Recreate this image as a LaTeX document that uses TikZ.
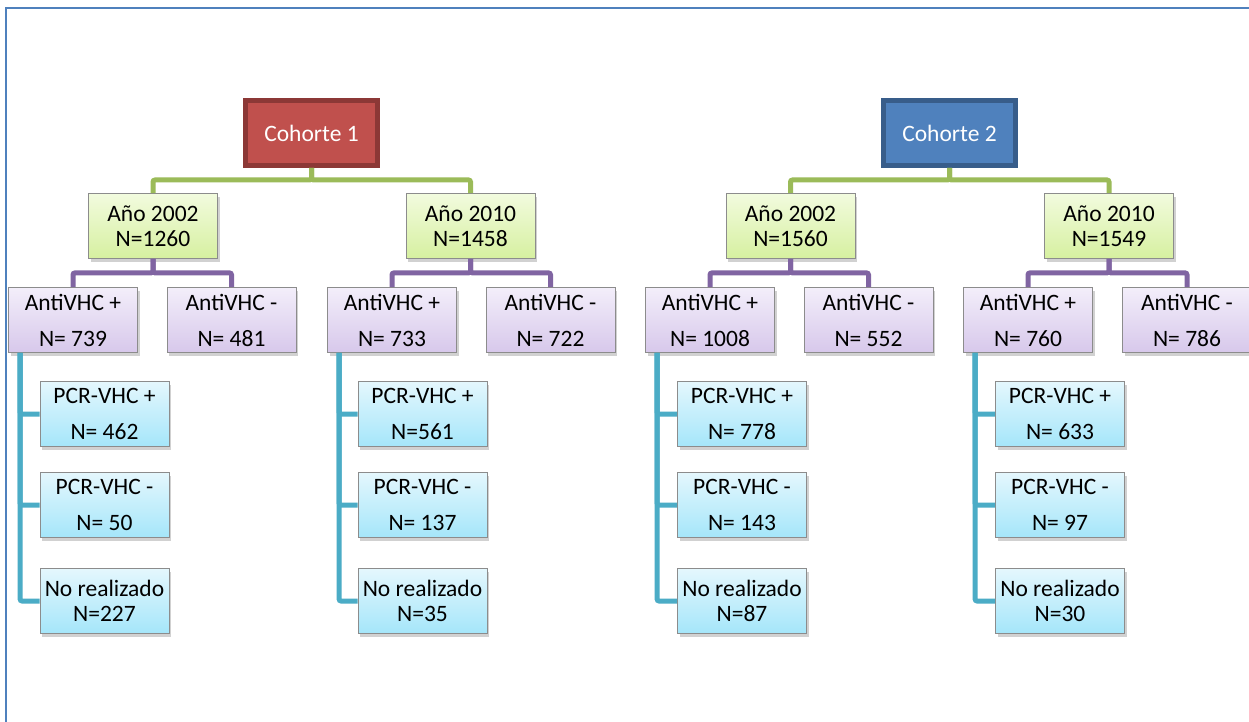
\documentclass[tikz,border=0pt]{standalone}
\usepackage{fontspec}
\setmainfont{Carlito}
\usetikzlibrary{shadows}
\definecolor{framec}{RGB}{79,129,189}
\definecolor{gline}{RGB}{155,187,89}
\definecolor{pline}{RGB}{128,100,162}
\definecolor{bline}{RGB}{75,172,198}
\definecolor{redf}{RGB}{192,80,77}
\definecolor{redd}{RGB}{140,56,54}
\definecolor{bluef}{RGB}{79,129,189}
\definecolor{blued}{RGB}{56,93,138}
\definecolor{gtop}{RGB}{242,251,222}
\definecolor{gbot}{RGB}{214,240,160}
\definecolor{ptop}{RGB}{243,238,250}
\definecolor{pbot}{RGB}{215,200,235}
\definecolor{btop}{RGB}{228,247,253}
\definecolor{bbot}{RGB}{165,230,250}
\begin{document}
\begin{tikzpicture}[x=1pt,y=-1pt,
  txt/.style={font=\fontsize{23.5}{25}\selectfont},
  box/.style={txt, draw=black!45, line width=0.8pt, minimum width=129pt, minimum height=65pt,
    inner sep=0pt, align=center,
    drop shadow={shadow xshift=2pt, shadow yshift=-3pt, fill=black, opacity=0.18}},
  yearbox/.style={box, top color=gtop, bottom color=gbot},
  antibox/.style={box, top color=ptop, bottom color=pbot},
  pcrbox/.style={box, top color=btop, bottom color=bbot},
  cohort/.style={txt, text=white, line width=5pt, minimum width=132pt, minimum height=65pt, inner sep=0pt},
  gconn/.style={draw=gline, line width=5pt, rounded corners=2pt},
  pconn/.style={draw=pline, line width=5pt, rounded corners=2pt},
  bconn/.style={draw=bline, line width=5pt, rounded corners=2pt},
]
\useasboundingbox (0,0) rectangle (1249,722);
\clip (0,0) rectangle (1249,722);
\fill[white] (0,0) rectangle (1249,722);
\draw[framec, line width=1.6pt] (6,760) -- (6,8) -- (1300,8);

% cohorts
\node[cohort, fill=redf, draw=redd] (c1) at (311.5,133) {Cohorte 1};
\node[cohort, fill=bluef, draw=blued] (c2) at (949.5,133) {Cohorte 2};

% years
\node[yearbox] (y1a) at (153,226) {Año 2002\\N=1260};
\node[yearbox] (y1b) at (470.5,226) {Año 2010\\N=1458};
\node[yearbox] (y2a) at (790.5,226) {Año 2002\\N=1560};
\node[yearbox] (y2b) at (1109,226) {Año 2010\\N=1549};

% antiVHC
\node[antibox] (a1ap) at (73,320) {AntiVHC +\\[11pt]N= 739};
\node[antibox] (a1an) at (231.5,320) {AntiVHC -\\[11pt]N= 481};
\node[antibox] (a1bp) at (392,320) {AntiVHC +\\[11pt]N= 733};
\node[antibox] (a1bn) at (550.5,320) {AntiVHC -\\[11pt]N= 722};
\node[antibox] (a2ap) at (710,320) {AntiVHC +\\[11pt]N= 1008};
\node[antibox] (a2an) at (868.5,320) {AntiVHC -\\[11pt]N= 552};
\node[antibox] (a2bp) at (1028,320) {AntiVHC +\\[11pt]N= 760};
\node[antibox] (a2bn) at (1187,320) {AntiVHC -\\[11pt]N= 786};

% PCR
\node[pcrbox] (p1ap) at (104.5,414) {PCR-VHC +\\[11pt]N= 462};
\node[pcrbox] (p1an) at (104.5,505) {PCR-VHC -\\[11pt]N= 50};
\node[pcrbox] (p1ax) at (104.5,601) {No realizado\\N=227};
\node[pcrbox] (p1bp) at (422.5,414) {PCR-VHC +\\[11pt]N=561};
\node[pcrbox] (p1bn) at (422.5,505) {PCR-VHC -\\[11pt]N= 137};
\node[pcrbox] (p1bx) at (422.5,601) {No realizado\\N=35};
\node[pcrbox] (p2ap) at (742,414) {PCR-VHC +\\[11pt]N= 778};
\node[pcrbox] (p2an) at (742,505) {PCR-VHC -\\[11pt]N= 143};
\node[pcrbox] (p2ax) at (742,601) {No realizado\\N=87};
\node[pcrbox] (p2bp) at (1060,414) {PCR-VHC +\\[11pt]N= 633};
\node[pcrbox] (p2bn) at (1060,505) {PCR-VHC -\\[11pt]N= 97};
\node[pcrbox] (p2bx) at (1060,601) {No realizado\\N=30};

% green connectors
\path[gconn] (c1.south) -- ++(0,12) -| (y1a.north);
\path[gconn] (c1.south) -- ++(0,12) -| (y1b.north);
\path[gconn] (c2.south) -- ++(0,12) -| (y2a.north);
\path[gconn] (c2.south) -- ++(0,12) -| (y2b.north);

% purple connectors
\foreach \y/\p/\n in {y1a/a1ap/a1an, y1b/a1bp/a1bn, y2a/a2ap/a2an, y2b/a2bp/a2bn}{
  \path[pconn] (\y.south) -- ++(0,14) -| (\p.north);
  \path[pconn] (\y.south) -- ++(0,14) -| (\n.north);
}

% blue connectors
\foreach \a/\q/\r/\s in {a1ap/p1ap/p1an/p1ax, a1bp/p1bp/p1bn/p1bx, a2ap/p2ap/p2an/p2ax, a2bp/p2bp/p2bn/p2bx}{
  \path[bconn] ([xshift=12pt]\a.south west) |- (\q.west);
  \path[bconn] ([xshift=12pt]\a.south west) |- (\r.west);
  \path[bconn] ([xshift=12pt]\a.south west) |- (\s.west);
}
\end{tikzpicture}
\end{document}
